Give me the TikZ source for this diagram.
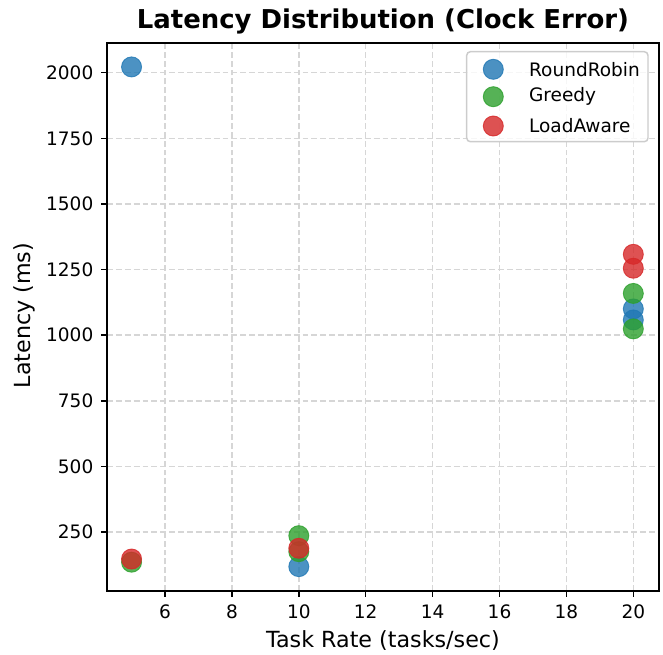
\documentclass[tikz,border=0pt]{standalone}
\usepackage{fontspec}
\setmainfont{DejaVu Sans}
\usetikzlibrary{positioning}
\definecolor{rrblue}{HTML}{1F77B4}
\definecolor{grgreen}{HTML}{2CA02C}
\definecolor{lared}{HTML}{D62728}

\begin{document}
\begin{tikzpicture}[x=0.54pt,y=-0.54pt,font=\fontsize{10}{12}\selectfont,
  grid/.style={black!16,line width=0.8pt,dash pattern=on 3.2pt off 1.6pt},
  tick/.style={line width=0.8pt},
  dot/.style={circle,inner sep=0pt,minimum size=10.8pt,opacity=0.8,line width=0.5pt},
  rr/.style={dot,fill=rrblue,draw=rrblue},gr/.style={dot,fill=grgreen,draw=grgreen},
  la/.style={dot,fill=lared,draw=lared},lbl/.style={font=\fontsize{12}{14}\selectfont}]
\useasboundingbox (0,0) rectangle (663,654);
% data coordinates: x = task rate, y = latency in ms
\begin{scope}[shift={(-35.7,597.6)},x=18.063pt,y=0.14173pt]
\coordinate (ll) at (4.266,25.2);
\coordinate (ur) at (20.77,2113);
\foreach \gx in {6,8,...,20} \draw[grid] (\gx,25.2) -- (\gx,2113);
\foreach \gy in {250,500,...,2000} \draw[grid] (4.266,\gy) -- (20.77,\gy);
\foreach \gx in {6,8,...,20}
  \draw[tick] (\gx,25.2) -- ++(0pt,-3.5pt) node[below=3.5pt,inner sep=0pt]{\gx};
\foreach \gy in {250,500,...,2000}
  \draw[tick] (4.266,\gy) -- ++(-3.5pt,0pt) node[left=3.5pt,inner sep=0pt]{\gy};
\foreach \px/\py [count=\i] in {5/2022,10/118,20/1100,20/1058}
  \node[rr] (rr\i) at (\px,\py) {};
\foreach \px/\py [count=\i] in {5/135,10/236,10/175,20/1159,20/1024}
  \node[gr] (gr\i) at (\px,\py) {};
\foreach \px/\py [count=\i] in {5/147,10/188,20/1308,20/1255}
  \node[la] (la\i) at (\px,\py) {};
\draw[line width=0.8pt] (ll) rectangle (ur);
\end{scope}
% legend
\draw[black!20,fill=white,fill opacity=0.8,line width=0.8pt,rounded corners=2pt]
  (466.7,51.7) rectangle (648,141.7);
\node[rr] (lgrr) at (493.3,69.3) {};
\node[gr] (lggr) at (493.3,96.7) {};
\node[la] (lgla) at (493.3,126) {};
\node[right=13.5pt of lgrr,inner sep=0pt] (lgrrtxt) {RoundRobin};
\node[right=13.5pt of lggr,inner sep=0pt] (lggrtxt) {Greedy};
\node[right=13.5pt of lgla,inner sep=0pt] (lglatxt) {LoadAware};
% titles
\node[font=\bfseries\fontsize{14}{16}\selectfont,anchor=base] (title) at (383,28)
  {Latency Distribution (Clock Error)};
\node[lbl,anchor=base] (xlabel) at (383,647) {Task Rate (tasks/sec)};
\node[lbl,anchor=base,rotate=90] (ylabel) at (30.7,315.5) {Latency (ms)};
\end{tikzpicture}
\end{document}
